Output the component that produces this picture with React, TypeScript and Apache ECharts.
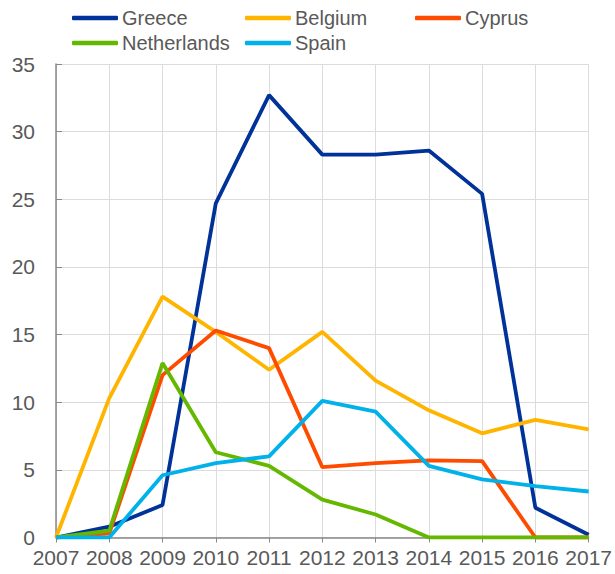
import React, { useEffect, useRef } from "react";
import * as echarts from "echarts";

const years = ["2007", "2008", "2009", "2010", "2011", "2012", "2013", "2014", "2015", "2016", "2017"];
const greece = [0, 0.8, 2.4, 24.7, 32.7, 28.3, 28.3, 28.6, 25.4, 2.2, 0.2];
const belgium = [0, 10.3, 17.8, 15.2, 12.4, 15.2, 11.6, 9.4, 7.7, 8.7, 8.0];
const cyprus = [0, 0.3, 12.0, 15.3, 14.0, 5.2, 5.5, 5.7, 5.65, 0, 0];
const netherlands = [0, 0.5, 12.9, 6.3, 5.3, 2.8, 1.7, 0, 0, 0, 0];
const spain = [0, 0, 4.6, 5.5, 6.0, 10.1, 9.3, 5.3, 4.3, 3.8, 3.4];

const seriesDefs = [
  { name: "Greece", data: greece, color: "#003299" },
  { name: "Belgium", data: belgium, color: "#FFB400" },
  { name: "Cyprus", data: cyprus, color: "#FF4B00" },
  { name: "Netherlands", data: netherlands, color: "#65B800" },
  { name: "Spain", data: spain, color: "#00B1EA" },
];

const legendSlots = [
  { name: "Greece", left: 72, top: 8 },
  { name: "Belgium", left: 245, top: 8 },
  { name: "Cyprus", left: 415, top: 8 },
  { name: "Netherlands", left: 72, top: 33 },
  { name: "Spain", left: 245, top: 33 },
];

const FONT = "'Liberation Sans', Arial, sans-serif";
const TXT = "#595959";

export default function App() {
  const ref = useRef<HTMLDivElement>(null);
  useEffect(() => {
    if (!ref.current) return;
    const chart = echarts.init(ref.current, undefined, { renderer: "svg" });
    chart.setOption({
      animation: false,
      textStyle: { fontFamily: FONT },
      legend: legendSlots.map((l) => ({
        left: l.left,
        top: l.top,
        data: [l.name],
        orient: "horizontal",
        itemWidth: 46,
        itemHeight: 4.5,
        itemGap: 5,
        icon: "roundRect",
        padding: 0,
        textStyle: { fontFamily: FONT, fontSize: 20, color: TXT, padding: [0, 0, 0, -1] },
      })),
      grid: { left: 56, right: 26, top: 64, bottom: 36.5, containLabel: false },
      xAxis: {
        type: "category",
        data: years,
        boundaryGap: false,
        axisLine: { show: true, lineStyle: { color: "#888888", width: 1.5 } },
        axisTick: { show: true, length: 5, lineStyle: { color: "#888888" } },
        axisLabel: { fontFamily: FONT, fontSize: 21, color: TXT, margin: 9, interval: 0 },
        splitLine: { show: true, lineStyle: { color: "#dcdcdc", width: 1 } },
      },
      yAxis: {
        type: "value",
        min: 0,
        max: 35,
        interval: 5,
        axisLine: { show: true, lineStyle: { color: "#888888", width: 1.5 } },
        axisTick: { show: true, inside: true, length: 6, lineStyle: { color: "#888888" } },
        axisLabel: { fontFamily: FONT, fontSize: 21, color: TXT, margin: 21 },
        splitLine: { show: true, lineStyle: { color: "#dcdcdc", width: 1 } },
      },
      series: seriesDefs.map((s) => ({
        name: s.name,
        type: "line",
        data: s.data,
        symbol: "none",
        color: s.color,
        lineStyle: { color: s.color, width: 3.8 },
      })),
    });
    return () => chart.dispose();
  }, []);
  return <div ref={ref} style={{ width: 615, height: 574, position: "absolute", left: 0, top: 0 }} />;
}
